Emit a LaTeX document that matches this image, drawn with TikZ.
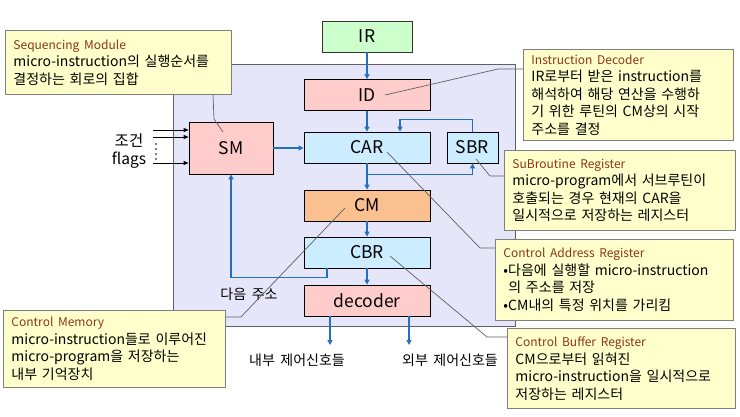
\documentclass[tikz,border=0pt]{standalone}
\usepackage{fontspec}
\setmainfont{Noto Sans CJK KR}
\usetikzlibrary{arrows.meta,calc}
\definecolor{irgreen}{HTML}{CCFFCC}
\definecolor{pinkc}{HTML}{FFCCCC}
\definecolor{bluec}{HTML}{CCECFF}
\definecolor{cmorange}{HTML}{FAC090}
\definecolor{panelc}{HTML}{E6E6FA}
\definecolor{panelborder}{HTML}{606060}
\definecolor{noteyellow}{HTML}{FFFFCC}
\definecolor{noteborder}{HTML}{7F7F7F}
\definecolor{titlered}{HTML}{8E3414}
\definecolor{flowblue}{HTML}{2470C0}
\definecolor{ptrgray}{HTML}{606060}
\newcommand\nttl[1]{{\color{titlered}\fontsize{12}{14}\selectfont #1}}
\newcommand\widesp{\spaceskip 0.4em plus 0.1em minus 0.1em\relax}
\tikzset{
  blk/.style={draw=black, line width=0.8pt, minimum width=126pt, minimum height=31pt, inner sep=0pt, font=\fontsize{17.5}{20}\selectfont},
  note/.style={draw=noteborder, fill=noteyellow, line width=0.9pt, anchor=north west, align=left, inner xsep=8pt, inner ysep=3pt, font=\fontsize{14}{17.5}\selectfont\widesp},
  flow/.style={draw=flowblue, line width=1.7pt, -{Triangle[length=5pt,width=5pt]}},
  cond/.style={draw=black, line width=0.8pt, -{Triangle[length=5pt,width=4pt]}},
  ptr/.style={draw=ptrgray, line width=0.7pt},
  lbl/.style={inner sep=0pt, font=\fontsize{14}{16}\selectfont\widesp},
  lblb/.style={inner sep=0pt, font=\fontsize{15.5}{18}\selectfont},
  panel/.style={draw=panelborder, fill=panelc, line width=0.9pt, minimum width=342pt, minimum height=262pt, inner sep=0pt}
}
\begin{document}
\begin{tikzpicture}[x=1pt,y=-1pt]
\useasboundingbox[fill=white] (0,0) rectangle (740,416);
\node[panel] (pnl) at (344,195) {};
% blocks
\node[blk, fill=irgreen, minimum width=90pt, draw=black!80] (IR) at (367,36.5) {IR};
\node[blk, fill=pinkc] (ID) at (367,95) {ID};
\node[blk, fill=bluec] (CAR) at (367,147.5) {CAR};
\node[blk, fill=bluec, minimum width=51pt] (SBR) at (472.5,147.5) {SBR};
\node[blk, fill=pinkc, minimum width=84pt, minimum height=52pt] (SM) at (231,148) {SM};
\node[blk, fill=cmorange] (CM) at (367,205.5) {CM};
\node[blk, fill=bluec] (CBR) at (367,252.5) {CBR};
\node[blk, fill=pinkc] (DEC) at (367,300.5) {decoder};
% flows
\draw[flow] (IR) -- (ID);
\draw[flow] (ID) -- (CAR);
\draw[flow] (SM.east) -- (SM.east -| CAR.west);
\draw[flow] (CAR) -- (CM);
\coordinate (j1) at ($(CAR.south)+(0,11)$);
\draw[flow] (j1) -| (SBR.south);
\draw[flow] (SBR.north) -- ++(0,-12) -| ($(CAR.north)+(33,0)$);
\draw[flow] (CM) -- (CBR);
\draw[flow] (CBR) -- (DEC);
\draw[flow] ($(CBR.south)+(-40,0)$) -- ++(0,9) -| (SM.south);
\coordinate (o1) at (330,345);
\coordinate (o2) at (409,345);
\draw[flow] (DEC.south -| o1) -- (o1);
\draw[flow] (DEC.south -| o2) -- (o2);
% labels
\node[lbl] (inn) at (297,360) {내부 제어신호들};
\node[lbl] (ext) at (450,360) {외부 제어신호들};
\node[lbl] (nxt) at (249,294) {다음 주소};
\node[lblb] (jg) at (129,141) {조건};
\node[lblb] (fl) at (129,160) {flags};
% condition inputs
\coordinate (k1) at (153,130);
\coordinate (k2) at (153,137);
\coordinate (k3) at (153,163);
\draw[cond] (k1) -- (k1 -| SM.west);
\draw[cond] (k2) -- (k2 -| SM.west);
\draw[cond] (k3) -- (k3 -| SM.west);
\foreach \yy in {144,149,154,159} \fill (156,\yy) circle (0.9pt);
% notes
\node[note, text width=210pt, minimum height=64pt] (nSM) at (5,30)
  {\nttl{Sequencing Module}\\micro-instruction의 실행순서를\\결정하는 회로의 집합};
\node[note, text width=194pt, minimum height=91pt] (nID) at (523,49)
  {\nttl{Instruction Decoder}\\IR로부터 받은 instruction를\\해석하여 해당 연산을 수행하\\기 위한 루틴의 CM상의 시작\\주소를 결정};
\node[note, text width=215pt, minimum height=80pt] (nSBR) at (504,150)
  {\nttl{SuBroutine Register}\\micro-program에서 서브루틴이\\호출되는 경우 현재의 CAR을\\일시적으로 저장하는 레지스터};
\node[note, text width=222pt, minimum height=81pt] (nCAR) at (495,239)
  {\nttl{Control Address Register}\\•다음에 실행할 micro-instruction\\\hspace*{5pt}의 주소를 저장\\•CM내의 특정 위치를 가리킴};
\node[note, text width=212pt, minimum height=80pt] (nCBR) at (507,328)
  {\nttl{Control Buffer Register}\\CM으로부터 읽혀진\\micro-instruction을 일시적으로\\저장하는 레지스터};
\node[note, text width=206pt, minimum height=77pt] (nCM) at (3,310)
  {\nttl{Control Memory}\\micro-instruction들로 이루어진\\micro-program을 저장하는\\내부 기억장치};
% pointers
\coordinate (pSM) at ($(SM.center)+(-8,-16)$);
\draw[ptr] (pSM) -- ($(nSM.south west)+(209,24)$) -- ($(nSM.south west)+(208,0)$);
\coordinate (pID) at ($(ID.center)+(18,0)$);
\draw[ptr] (pID) -- ($(nID.north west)+(-25,20)$) -- ($(nID.north west)+(0,20)$);
\coordinate (pSBR) at ($(SBR.center)+(3.5,11.5)$);
\draw[ptr] (pSBR) -- ($(nSBR.north west)+(-14,26)$) -- ($(nSBR.north west)+(0,26)$);
\coordinate (pCAR) at ($(CAR.center)+(20,4.5)$);
\draw[ptr] (pCAR) -- ($(nCAR.north west)+(-15,9)$) -- ($(nCAR.north west)+(0,9)$);
\coordinate (pCBR) at ($(CBR.center)+(23,3.5)$);
\draw[ptr] (pCBR) -- ($(nCBR.north west)+(-20,9)$) -- ($(nCBR.north west)+(0,9)$);
\coordinate (pCM) at ($(CM.center)+(-22,2.5)$);
\draw[ptr] (pCM) -- ($(nCM.north east)+(15,7)$) -- ($(nCM.north east)+(0,7)$);
\end{tikzpicture}
\end{document}
